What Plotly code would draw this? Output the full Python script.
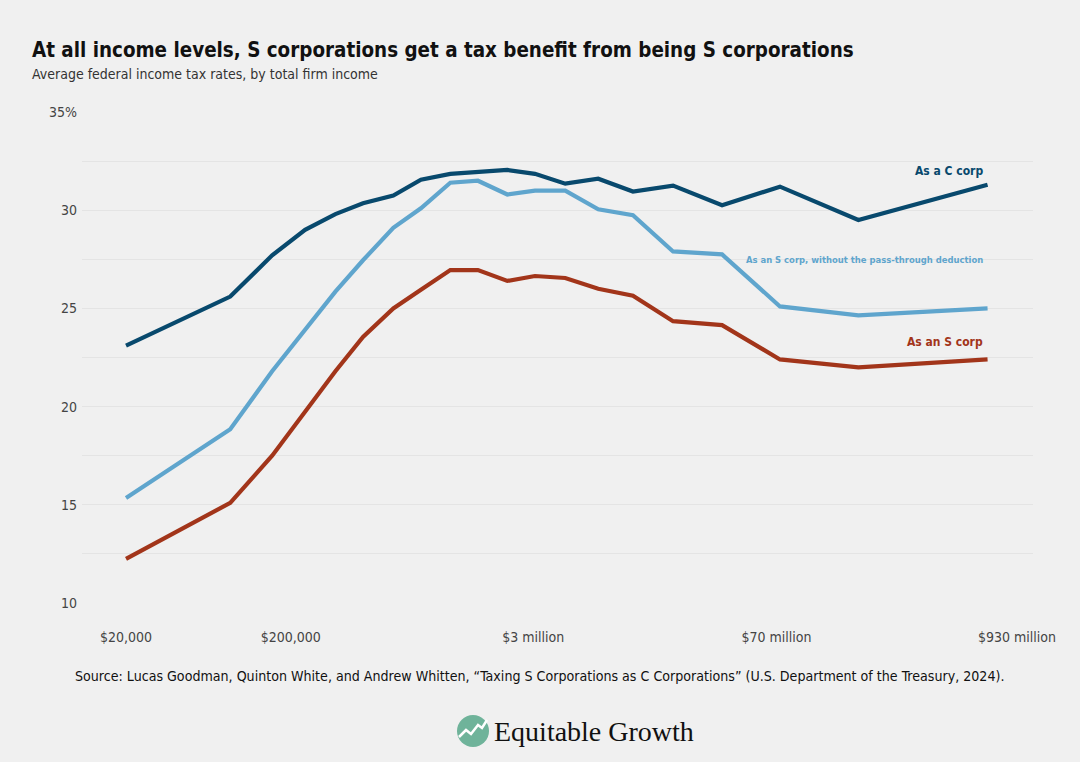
import plotly.graph_objects as go

# Position of each income bin along the x axis (scale units: $20,000 = 0, $930 million = 100)
bin_pos = [0, 11.7, 16.4, 20.1, 23.5, 26.6, 30.0, 33.1, 36.4, 39.5, 42.8, 45.9,
           49.3, 53.0, 56.9, 61.4, 66.9, 73.4, 82.2, 96.7]

c_corp = [23.1, 25.6, 27.7, 29.0, 29.8, 30.35, 30.75, 31.55, 31.85, 31.95, 32.05, 31.85,
          31.35, 31.6, 30.95, 31.25, 30.25, 31.2, 29.5, 31.3]
s_corp_no_ptd = [15.35, 18.85, 21.8, 23.9, 25.85, 27.45, 29.1, 30.1, 31.4, 31.5, 30.8, 31.0,
                 31.0, 30.05, 29.75, 27.9, 27.75, 25.1, 24.65, 25.0]
s_corp = [12.25, 15.1, 17.5, 19.75, 21.8, 23.55, 25.0, 25.95, 26.95, 26.95, 26.4, 26.65,
          26.55, 26.0, 25.65, 24.35, 24.15, 22.4, 22.0, 22.4]

x_tick_pos = [0, 18.5, 45.7, 73.0, 100]
x_tick_text = ["$20,000", "$200,000", "$3 million", "$70 million", "$930 million"]

y_tick_vals = [10, 12.5, 15, 17.5, 20, 22.5, 25, 27.5, 30, 32.5, 35]
y_tick_text = ["10", "", "15", "", "20", "", "25", "", "30", "", "35%"]

DARK = "#08496d"
LIGHT = "#5fa5cd"
RED = "#a2351a"
BG = "#f0f0f0"
COND = "DejaVu Sans Condensed, Roboto, sans-serif"

fig = go.Figure()
for ys, col in [(s_corp, RED), (s_corp_no_ptd, LIGHT), (c_corp, DARK)]:
    fig.add_trace(go.Scatter(x=bin_pos, y=ys, mode="lines",
                             line=dict(color=col, width=4.2), hoverinfo="skip"))

fig.update_layout(
    width=1080, height=762,
    paper_bgcolor=BG, plot_bgcolor=BG,
    showlegend=False,
    margin=dict(l=82, r=47, t=112, b=159),
    xaxis=dict(range=[-4.94, 101.8], tickvals=x_tick_pos, ticktext=x_tick_text,
               showgrid=False, zeroline=False, showline=False, ticks="",
               tickfont=dict(family=COND, size=14, color="#444"), ticklabelstandoff=24),
    yaxis=dict(range=[10, 35], tickvals=y_tick_vals, ticktext=y_tick_text,
               showgrid=True, gridcolor="#e4e4e4", gridwidth=1, zeroline=False,
               showline=False, ticks="",
               tickfont=dict(family=COND, size=14, color="#444"), ticklabelstandoff=4),
)

fig.add_annotation(text="<b>At all income levels, S corporations get a tax benefit from being S corporations</b>",
                   xref="paper", yref="paper", x=-0.0547, y=1.126, xanchor="left", yanchor="middle",
                   showarrow=False, font=dict(family=COND, size=20.4, color="#111"))
fig.add_annotation(text="Average federal income tax rates, by total firm income",
                   xref="paper", yref="paper", x=-0.0547, y=1.077, xanchor="left", yanchor="middle",
                   showarrow=False, font=dict(family=COND, size=14, color="#333"))

# Series labels
fig.add_annotation(text="<b>As a C corp</b>", x=96.4, y=32.0, xanchor="right", yanchor="middle",
                   showarrow=False, font=dict(family=COND, size=12, color=DARK))
fig.add_annotation(text="<b>As an S corp, without the pass-through deduction</b>", x=96.4, y=27.5,
                   xanchor="right", yanchor="middle",
                   showarrow=False, font=dict(family=COND, size=9.4, color=LIGHT))
fig.add_annotation(text="<b>As an S corp</b>", x=96.4, y=23.3, xanchor="right", yanchor="middle",
                   showarrow=False, font=dict(family=COND, size=12, color=RED))

fig.add_annotation(text="Source: Lucas Goodman, Quinton White, and Andrew Whitten, “Taxing S Corporations as C Corporations” (U.S. Department of the Treasury, 2024).",
                   xref="paper", yref="paper", x=-0.0095, y=-0.148, xanchor="left", yanchor="middle",
                   showarrow=False, font=dict(family=COND, size=14.1, color="#111"))

# Logo
def px(xp):
    return (xp - 82) / 951
def py(yp):
    return (603 - yp) / 491

fig.add_shape(type="circle", xref="paper", yref="paper",
              x0=px(457), x1=px(489), y0=py(747), y1=py(715),
              fillcolor="#6fb39a", line=dict(width=0))
fig.add_shape(type="path", xref="paper", yref="paper",
              path=f"M {px(459)} {py(737)} L {px(466)} {py(730)} L {px(471)} {py(734)} L {px(478)} {py(725)} L {px(482)} {py(728)} L {px(487)} {py(720)}",
              line=dict(color="white", width=2.5))
fig.add_annotation(text="Equitable Growth", xref="paper", yref="paper",
                   x=px(492), y=py(731), xanchor="left", yanchor="middle",
                   showarrow=False, font=dict(family="Liberation Serif", size=28, color="#111"))

fig.write_html("out.html", config={"displayModeBar": False},
               post_script="document.body.style.margin='0';document.body.style.background='#f0f0f0';")
